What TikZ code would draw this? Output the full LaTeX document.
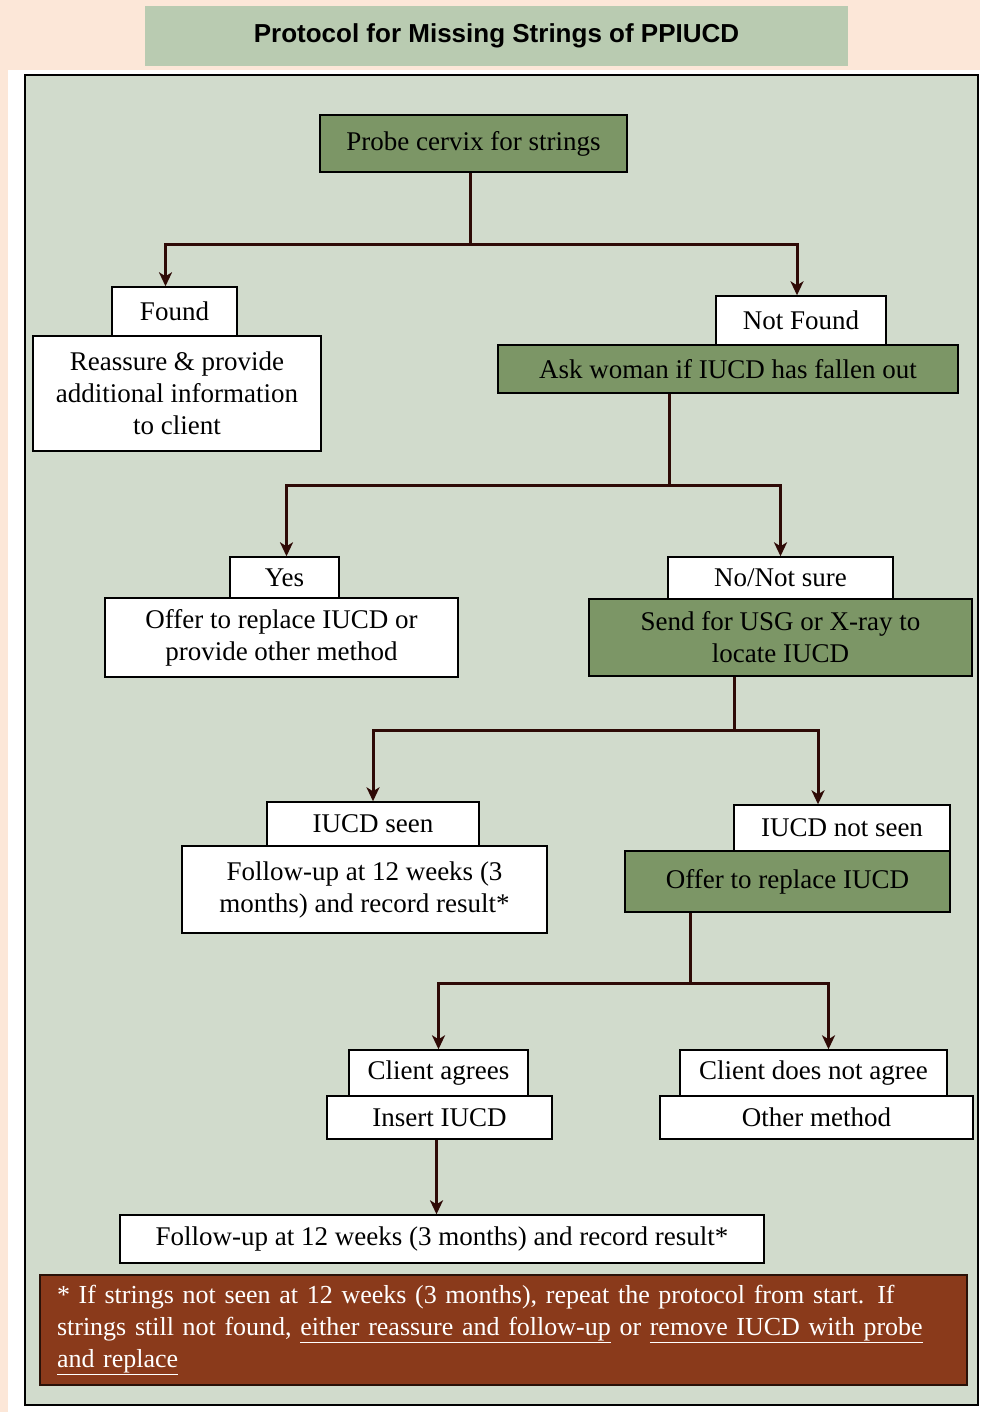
\documentclass[tikz,border=0pt]{standalone}
\usepackage{fontspec}
\setmainfont{Liberation Serif}
\newfontfamily\headfont{Liberation Sans}
\usetikzlibrary{arrows.meta, positioning, calc}
\definecolor{pagebg}{HTML}{FCE7D8}
\definecolor{headgreen}{HTML}{B9CBB1}
\definecolor{panelbg}{HTML}{D1DBCC}
\definecolor{boxgreen}{HTML}{7C9666}
\definecolor{notered}{HTML}{8A3A1B}
\definecolor{linebrown}{HTML}{2E0A06}
\definecolor{tipred}{HTML}{5A1410}

\begin{document}
\begin{tikzpicture}[
x=1pt, y=-1pt,
tab/.style={draw=black, line width=1.4pt, fill=white, inner sep=0pt, align=center,
  font=\fontsize{27}{32}\selectfont},
action/.style={tab, fill=boxgreen},
note/.style={draw=black!70!notered, line width=1.4pt, fill=notered, text=white, inner sep=0pt,
  align=left, font=\fontsize{26}{32}\selectfont},
line/.style={draw=linebrown, line width=3pt},
arrow/.style={line, -{Stealth[length=14pt, width=13pt, inset=4pt, fill=tipred]}}
]
\useasboundingbox (0,0) rectangle (980,1412);
\fill[pagebg] (0,0) rectangle (980,1412);
\fill[white] (8,70) rectangle (980,1412);
\draw[fill=panelbg, line width=1.6pt] (25,75) rectangle (978,1405);

% heading
\node[fill=headgreen, minimum width=703pt, minimum height=60pt, inner sep=0pt,
  font=\headfont\bfseries\fontsize{26}{30}\selectfont] (head) at (496.5,36) {Protocol for Missing Strings of PPIUCD};

% first level
\node[action, minimum width=307pt, minimum height=57pt] (probe) at (473.5,143.5) {Probe cervix for strings};
\node[tab, minimum width=125pt, minimum height=49pt] (found) at (174.5,311.5) {Found};
\node[tab, minimum width=288pt, minimum height=115pt] (reassure) at (177,393.5) {Reassure \& provide\\additional information\\to client};
\node[tab, minimum width=170pt, minimum height=49pt] (notfound) at (801,320.5) {Not Found};
\node[action, minimum width=460pt, minimum height=48pt] (ask) at (728,369) {Ask woman if IUCD has fallen out};

% second level
\node[tab, minimum width=109pt, minimum height=41pt] (yes) at (284.5,577.5) {Yes};
\node[tab, minimum width=353pt, minimum height=79pt] (offer) at (281.5,637.5) {Offer to replace IUCD or\\provide other method};
\node[tab, minimum width=225pt, minimum height=42pt] (notsure) at (780.5,578) {No/Not sure};
\node[action, minimum width=383pt, minimum height=77pt] (usg) at (780.5,637.5) {Send for USG or X-ray to\\locate IUCD};

% third level
\node[tab, minimum width=212pt, minimum height=44pt] (seen) at (373,824) {IUCD seen};
\node[tab, minimum width=365pt, minimum height=87pt] (followa) at (364.5,889.5) {Follow-up at 12 weeks (3\\months) and record result*};
\node[tab, minimum width=216pt, minimum height=46pt] (notseen) at (842,828) {IUCD not seen};
\node[action, minimum width=325pt, minimum height=61pt] (replace) at (787.5,881.5) {Offer to replace IUCD};

% fourth level
\node[tab, minimum width=179pt, minimum height=46pt] (agrees) at (438.5,1073) {Client agrees};
\node[tab, minimum width=225pt, minimum height=43pt] (insert) at (439.5,1117.5) {Insert IUCD};
\node[tab, minimum width=267pt, minimum height=46pt] (disagree) at (813.5,1073) {Client does not agree};
\node[tab, minimum width=313pt, minimum height=43pt] (other) at (816.5,1117.5) {Other method};
\node[tab, minimum width=644pt, minimum height=48pt] (followb) at (442,1239) {Follow-up at 12 weeks (3 months) and record result*};

\node[note, minimum width=927pt, minimum height=110pt, text width=893pt] (footnote) at (503.5,1330)
  {* If strings not seen at 12 weeks (3 months), repeat the protocol from start. If\\
   strings still not found, \underline{either reassure and follow-up} or \underline{remove IUCD with probe}\\
   \underline{and replace}};

% junctions
\coordinate (ja) at (470,245);
\coordinate (jb) at (669,485);
\coordinate (jc) at (734,730);
\coordinate (jd) at (690,983);

\draw[line] (ja |- probe.south) -- (ja);
\draw[arrow] (ja) -| ([xshift=-9pt]found.north);
\draw[arrow] (ja) -| ([xshift=-4pt]notfound.north);

\draw[line] (jb |- ask.south) -- (jb);
\draw[arrow] (jb) -| ([xshift=2pt]yes.north);
\draw[arrow] (jb) -| (notsure.north);

\draw[line] (jc |- usg.south) -- (jc);
\draw[arrow] (jc) -| (seen.north);
\draw[arrow] (jc) -| ([xshift=-24pt]notseen.north);

\draw[line] (jd |- replace.south) -- (jd);
\draw[arrow] (jd) -| (agrees.north);
\draw[arrow] (jd) -| ([xshift=15pt]disagree.north);

\draw[arrow] ([xshift=-3pt]insert.south) -- ([xshift=-3pt]insert.south |- followb.north);

\end{tikzpicture}
\end{document}
